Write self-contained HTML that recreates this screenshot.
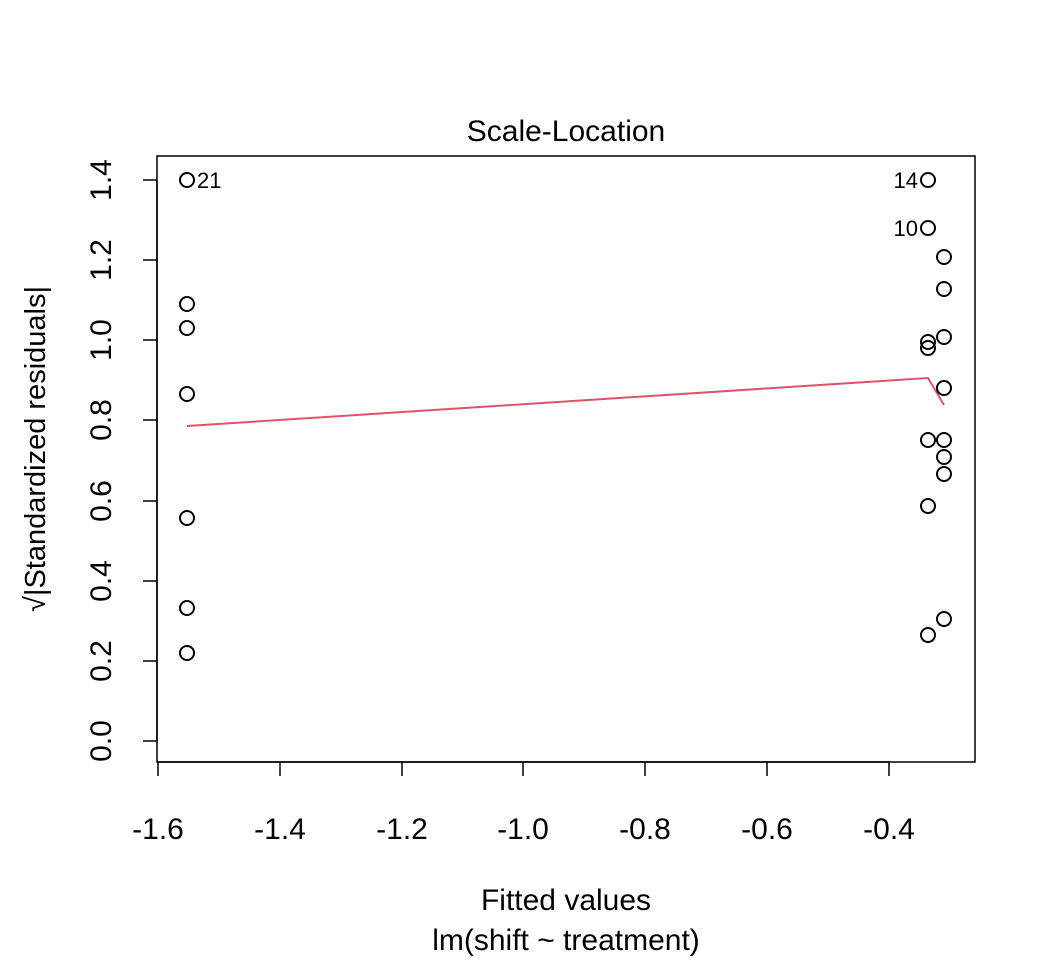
<!DOCTYPE html>
<html><head><meta charset="utf-8"><style>body{margin:0;background:#fff}svg{display:block}text{font-family:"Liberation Sans",Arial,sans-serif;fill:#000}</style></head><body>
<svg width="1056" height="960" viewBox="0 0 1056 960" xmlns="http://www.w3.org/2000/svg">
<rect x="157" y="156" width="818" height="606" fill="none" stroke="#000" stroke-width="1.5"/>
<g stroke="#000" stroke-width="1.5">
<line x1="158" y1="762" x2="889" y2="762"/>
<line x1="158" y1="762" x2="158" y2="776"/><line x1="280" y1="762" x2="280" y2="776"/><line x1="402" y1="762" x2="402" y2="776"/><line x1="523" y1="762" x2="523" y2="776"/><line x1="645" y1="762" x2="645" y2="776"/><line x1="767" y1="762" x2="767" y2="776"/><line x1="889" y1="762" x2="889" y2="776"/>
<line x1="157" y1="180" x2="157" y2="741"/>
<line x1="143" y1="741" x2="157" y2="741"/><line x1="143" y1="661" x2="157" y2="661"/><line x1="143" y1="581" x2="157" y2="581"/><line x1="143" y1="501" x2="157" y2="501"/><line x1="143" y1="420" x2="157" y2="420"/><line x1="143" y1="340" x2="157" y2="340"/><line x1="143" y1="260" x2="157" y2="260"/><line x1="143" y1="180" x2="157" y2="180"/>
</g>
<g font-size="30" text-anchor="middle">
<text x="158" y="839">-1.6</text><text x="280" y="839">-1.4</text><text x="402" y="839">-1.2</text><text x="523" y="839">-1.0</text><text x="645" y="839">-0.8</text><text x="767" y="839">-0.6</text><text x="889" y="839">-0.4</text>
<text transform="translate(111,741) rotate(-90)">0.0</text><text transform="translate(111,661) rotate(-90)">0.2</text><text transform="translate(111,581) rotate(-90)">0.4</text><text transform="translate(111,501) rotate(-90)">0.6</text><text transform="translate(111,420) rotate(-90)">0.8</text><text transform="translate(111,340) rotate(-90)">1.0</text><text transform="translate(111,260) rotate(-90)">1.2</text><text transform="translate(111,180) rotate(-90)">1.4</text>
<text x="566" y="910">Fitted values</text>
<text x="566" y="950">lm(shift ~ treatment)</text>
<text x="566" y="141">Scale-Location</text>
<text transform="translate(45,449) rotate(-90)" font-size="29">√|Standardized residuals|</text>
</g>
<polyline points="187,426 928,378 944,405" fill="none" stroke="#DF536B" stroke-width="2"/>
<g fill="none" stroke="#000" stroke-width="2">
<circle cx="187" cy="180" r="7"/><circle cx="187" cy="304" r="7"/><circle cx="187" cy="328" r="7"/><circle cx="187" cy="394" r="7"/><circle cx="187" cy="518" r="7"/><circle cx="187" cy="608" r="7"/><circle cx="187" cy="653" r="7"/>
<circle cx="928" cy="180" r="7"/><circle cx="928" cy="228" r="7"/><circle cx="928" cy="342" r="7"/><circle cx="928" cy="348" r="7"/><circle cx="928" cy="440" r="7"/><circle cx="928" cy="506" r="7"/><circle cx="928" cy="635" r="7"/>
<circle cx="944" cy="257" r="7"/><circle cx="944" cy="289" r="7"/><circle cx="944" cy="337" r="7"/><circle cx="944" cy="388" r="7"/><circle cx="944" cy="440" r="7"/><circle cx="944" cy="457" r="7"/><circle cx="944" cy="474" r="7"/><circle cx="944" cy="619" r="7"/>
</g>
<g font-size="22">
<text x="197" y="188">21</text>
<text x="918" y="188" text-anchor="end">14</text>
<text x="918" y="236" text-anchor="end">10</text>
</g>
</svg>
</body></html>
